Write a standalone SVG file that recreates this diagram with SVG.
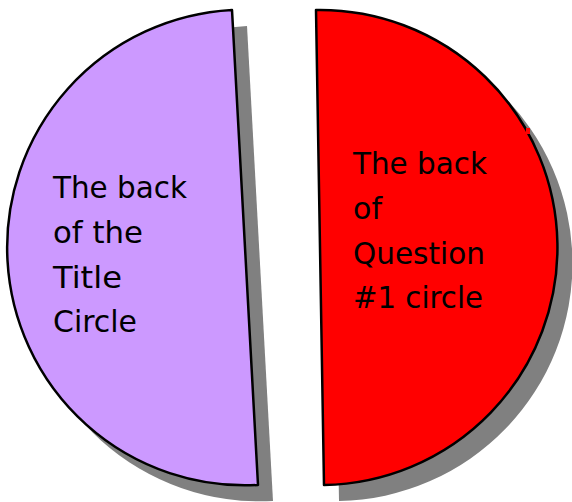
<svg xmlns="http://www.w3.org/2000/svg" width="572" height="502" viewBox="0 0 572 502">
<style>
.shadow{fill:#808080;stroke:none}
.half{stroke:#000;stroke-width:2.5;stroke-linejoin:round}
.lbl{font-family:"DejaVu Sans","Liberation Sans",sans-serif;font-size:31px;fill:#000}
</style>
<rect width="572" height="502" fill="#fff"/>
<g id="title-back">
  <path class="shadow" d="M247,26 A237,237 0 0 0 273,501 Z"/>
  <path class="half" fill="#CC99FF" d="M232,10 A237,237 0 0 0 258,485 Z"/>
  <text class="lbl" x="53" y="198" textLength="134" lengthAdjust="spacingAndGlyphs">The back</text>
  <text class="lbl" x="53" y="243" textLength="90" lengthAdjust="spacingAndGlyphs">of the</text>
  <text class="lbl" x="53" y="288" textLength="69" lengthAdjust="spacingAndGlyphs">Title</text>
  <text class="lbl" x="53" y="332" textLength="84" lengthAdjust="spacingAndGlyphs">Circle</text>
</g>
<g id="question1-back">
  <path class="shadow" d="M331,26 A237,237 0 0 1 339,501 Z"/>
  <path class="half" fill="#FF0000" d="M316,10 A237,237 0 0 1 324,485 Z"/>
  <rect x="526" y="128" width="4" height="6" fill="#FF0000"/>
  <text class="lbl" x="353" y="174" textLength="134" lengthAdjust="spacingAndGlyphs">The back</text>
  <text class="lbl" x="353" y="219" textLength="29" lengthAdjust="spacingAndGlyphs">of</text>
  <text class="lbl" x="353" y="264" textLength="132" lengthAdjust="spacingAndGlyphs">Question</text>
  <text class="lbl" x="353" y="308" textLength="130" lengthAdjust="spacingAndGlyphs">#1 circle</text>
</g>
<g id="connectors"/>
</svg>
